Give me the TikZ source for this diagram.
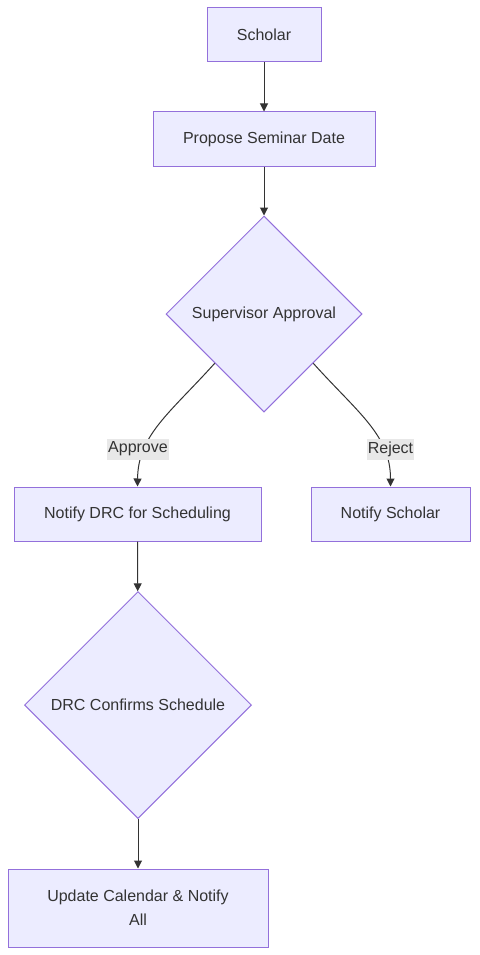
\documentclass[tikz,border=0pt]{standalone}
\usepackage{fontspec}
\setmainfont{Liberation Sans}
\usetikzlibrary{shapes.geometric,arrows.meta}
\definecolor{boxfill}{HTML}{ECECFF}
\definecolor{boxline}{HTML}{9370DB}
\definecolor{inkgrey}{HTML}{333333}
\definecolor{lblfill}{HTML}{E8E8E8}
\tikzset{
  box/.style={draw=boxline,fill=boxfill,line width=1pt,text=inkgrey,inner sep=0pt,
    align=center,font=\fontsize{16}{24}\selectfont},
  decision/.style={box,diamond,aspect=1},
  flow/.style={draw=inkgrey,line width=1pt,-{Triangle[length=8pt,width=8pt]}},
  lbl/.style={fill=lblfill,text=inkgrey,inner xsep=1pt,inner ysep=0pt,minimum height=21pt,
    font=\fontsize{16}{20}\selectfont}
}
\begin{document}
\begin{tikzpicture}[x=1pt,y=-1pt]
\useasboundingbox (0,0) rectangle (479,955);
\node [box,minimum width=114pt,minimum height=54pt](Scholar) at (264,35){Scholar};
\node [box,minimum width=222pt,minimum height=54pt](Propose) at (264,139){Propose Seminar Date};
\node [decision,minimum width=196pt,minimum height=196pt](Approval) at (264,314){Supervisor Approval};
\node [box,minimum width=247pt,minimum height=54pt](NotifyDRC) at (137.5,514){Notify DRC for Scheduling};
\node [box,minimum width=159pt,minimum height=54pt](NotifyScholar) at (390.5,514){Notify Scholar};
\node [decision,minimum width=227pt,minimum height=227pt](Confirm) at (138,705){DRC Confirms Schedule};
\node [box,minimum width=260pt,minimum height=78pt](Update) at (138,908){Update Calendar \& Notify\\All};
\draw [flow](Scholar) -- (Propose);
\draw [flow](Propose) -- (Approval);
\draw [flow](Approval.south west) .. controls (170,413) and (138,435) .. (NotifyDRC.north);
\node [lbl](ApproveLbl) at (138,449){Approve};
\draw [flow](Approval.south east) .. controls (358,413) and (390.5,435) .. (NotifyScholar.north);
\node [lbl](RejectLbl) at (390.5,449){Reject};
\draw [flow](NotifyDRC) -- (Confirm);
\draw [flow](Confirm) -- (Update);
\end{tikzpicture}
\end{document}
